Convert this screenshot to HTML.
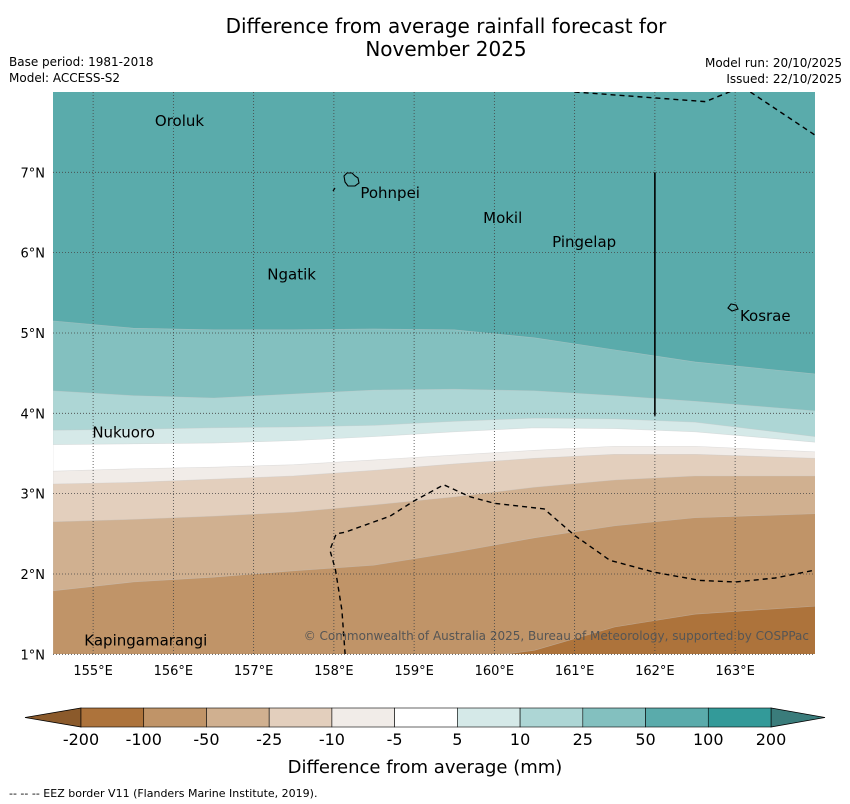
<!DOCTYPE html>
<html><head><meta charset="utf-8"><style>
body{margin:0;background:#fff;font-family:"DejaVu Sans","Liberation Sans",sans-serif;}
svg{display:block}
</style></head><body>
<svg id="chart" width="850" height="804" xmlns="http://www.w3.org/2000/svg">
<text x="446" y="33" font-size="20" text-anchor="middle">Difference from average rainfall forecast for</text>
<text x="446" y="56" font-size="20" text-anchor="middle">November 2025</text>
<text x="9" y="66" font-size="12">Base period: 1981-2018</text>
<text x="9" y="82" font-size="12">Model: ACCESS-S2</text>
<text x="842" y="67" font-size="12" text-anchor="end">Model run: 20/10/2025</text>
<text x="842" y="83" font-size="12" text-anchor="end">Issued: 22/10/2025</text>
<defs><clipPath id="mapclip"><rect x="53" y="92" width="762" height="562"/></clipPath></defs>
<g id="map" clip-path="url(#mapclip)"></g>
<g id="overlay"></g>
<g id="cbar"></g>
<text x="425" y="773" font-size="18" text-anchor="middle">Difference from average (mm)</text>
<text x="9" y="797" font-size="11">--  --  -- EEZ border V11 (Flanders Marine Institute, 2019).</text>
</svg>
<script>
const lons = [154.5,155.5,156.5,157.5,158.5,159.5,160.5,161.5,162.5,164.0];
const b1 = [5.15,5.06,5.04,5.04,5.05,5.04,4.94,4.79,4.64,4.49];
const b2 = [4.28,4.22,4.19,4.24,4.29,4.30,4.28,4.22,4.15,4.03];
const b3 = [3.79,3.80,3.82,3.83,3.85,3.90,3.94,3.93,3.89,3.71];
const b4 = [3.61,3.62,3.63,3.66,3.71,3.77,3.82,3.81,3.77,3.64];
const b5 = [3.28,3.31,3.33,3.36,3.42,3.48,3.54,3.59,3.59,3.52];
const b6 = [3.12,3.14,3.18,3.22,3.29,3.37,3.44,3.49,3.49,3.44];
const b7 = [2.65,2.68,2.72,2.77,2.86,2.96,3.08,3.17,3.22,3.22];
const b8 = [1.79,1.90,1.96,2.04,2.11,2.27,2.45,2.60,2.70,2.75];
const b9 = [0.9,0.9,0.9,0.9,0.9,0.92,1.05,1.34,1.50,1.60];
const levels = ['-200','-100','-50','-25','-10','-5','5','10','25','50','100','200'];
const levelColors = ['#ad733b','#c09468','#d0b090','#e3cfbd','#f1ece8','#ffffff','#d5e9e8','#add6d5','#83c0bf','#5aabab','#339a99'];
const lonTicks = [155,156,157,158,159,160,161,162,163];
const latTicks = [1,2,3,4,5,6,7];
const places = [['Oroluk',155.77,7.64],['Pohnpei',158.33,6.74],['Mokil',159.86,6.43],['Pingelap',160.72,6.13],['Ngatik',157.17,5.73],['Kosrae',163.06,5.21],['Nukuoro',154.99,3.76],['Kapingamarangi',154.89,1.17]];
const eez1 = [[158.14,1.0],[158.1,1.55],[158.02,2.05],[157.95,2.3],[158.03,2.5],[158.14,2.52],[158.7,2.72],[159.0,2.91],[159.37,3.11],[159.7,2.96],[160.0,2.88],[160.62,2.81],[161.0,2.48],[161.44,2.17],[162.0,2.02],[162.56,1.92],[163.0,1.9],[163.5,1.95],[164.0,2.05]];
const eez2 = [[161.0,8.0],[162.63,7.88],[163.0,8.03]];
const eez3 = [[163.19,8.0],[164.0,7.46]];

const NS='http://www.w3.org/2000/svg';
const X = lon => 53 + (lon-154.5)*80.25;
const Y = lat => 92 + (8-lat)*80.33;
function mk(tag, attrs, parent){const e=document.createElementNS(NS,tag);for(const k in attrs)e.setAttribute(k,attrs[k]);parent.appendChild(e);return e;}
const map=document.getElementById('map');
const bg=mk('rect',{x:53,y:92,width:762,height:562,fill:levelColors[9]},map);


const bounds=[b1,b2,b3,b4,b5,b6,b7,b8,b9];
const bandNames=['band-25-50','band-10-25','band-5-10','band-neutral','band-minus5-minus10','band-minus10-minus25','band-minus25-minus50','band-minus50-minus100','band-minus100-minus200'];
bounds.forEach((b,i)=>{
  let pts=b.map((v,j)=>X(lons[j])+','+Y(v)).join(' ');
  pts+=' '+X(164)+',700 '+X(154.5)+',700';
  const p=mk('polygon',{points:pts,fill:levelColors[8-i],stroke:'#c8c8c8','stroke-width':0.6,'stroke-opacity':0.5},map);
  
  
});
const ov=document.getElementById('overlay');
lonTicks.forEach(l=>{
  const g=mk('line',{x1:X(l),x2:X(l),y1:92,y2:654,stroke:'#444','stroke-width':0.8,'stroke-dasharray':'1,2'},ov);
  
  
  const t=mk('text',{x:X(l),y:675,'font-size':13,'text-anchor':'middle'},ov);t.textContent=l+'°E';
  
  
});
latTicks.forEach(l=>{
  const g=mk('line',{x1:53,x2:815,y1:Y(l),y2:Y(l),stroke:'#444','stroke-width':0.8,'stroke-dasharray':'1,2'},ov);
  
  
  const t=mk('text',{x:45,y:Y(l)+5,'font-size':13,'text-anchor':'end'},ov);t.textContent=l+'°N';
  
  
});
[eez1,eez2,eez3].forEach(e=>{
  const p=mk('polyline',{points:e.map(q=>X(q[0])+','+Y(q[1])).join(' '),fill:'none',stroke:'#000','stroke-width':1.4,'stroke-dasharray':'5,4','clip-path':'url(#mapclip)'},ov);
  
  
});
const vl=mk('line',{x1:X(162),x2:X(162),y1:Y(7),y2:Y(3.97),stroke:'#000','stroke-width':1.6},ov);


const ph=mk('path',{d:'M344,176 l3,-3 l5,0 l3,3 l3,2 l1,5 l-4,3 l-7,0 l-3,-4z',fill:'none',stroke:'#000','stroke-width':1.1},ov);


const pl=mk('line',{x1:333,y1:191,x2:335,y2:188,stroke:'#000','stroke-width':1.2},ov);


const ks=mk('path',{d:'M728,308 l3,-4 l5,1 l2,4 l-6,2z',fill:'none',stroke:'#000','stroke-width':1.1},ov);


places.forEach(p=>{
  const t=mk('text',{x:X(p[1]),y:Y(p[2])+5,'font-size':15},ov);t.textContent=p[0];
  
  
});
const cr=mk('text',{x:809,y:640,'font-size':12,'text-anchor':'end',fill:'#555'},ov);
cr.textContent='© Commonwealth of Australia 2025, Bureau of Meteorology, supported by COSPPac';


const cb=document.getElementById('cbar');
const cx0=81,cx1=771,cy=708,ch=19,sw=(cx1-cx0)/levelColors.length;
const la=mk('polygon',{points:`25,${cy+ch/2} ${cx0},${cy} ${cx0},${cy+ch}`,fill:'#8b5a2b',stroke:'#000','stroke-width':0.8},cb);


const ra=mk('polygon',{points:`825,${cy+ch/2} ${cx1},${cy} ${cx1},${cy+ch}`,fill:'#3a7c7b',stroke:'#000','stroke-width':0.8},cb);


levelColors.forEach((c,i)=>{
  const r=mk('rect',{x:cx0+i*sw,y:cy,width:sw,height:ch,fill:c,stroke:'#000','stroke-width':0.6},cb);
  
  
});
levels.forEach((l,i)=>{
  const t=mk('text',{x:cx0+i*sw,y:745,'font-size':16,'text-anchor':'middle'},cb);t.textContent=l;
  
  
});
</script>
</body></html>
